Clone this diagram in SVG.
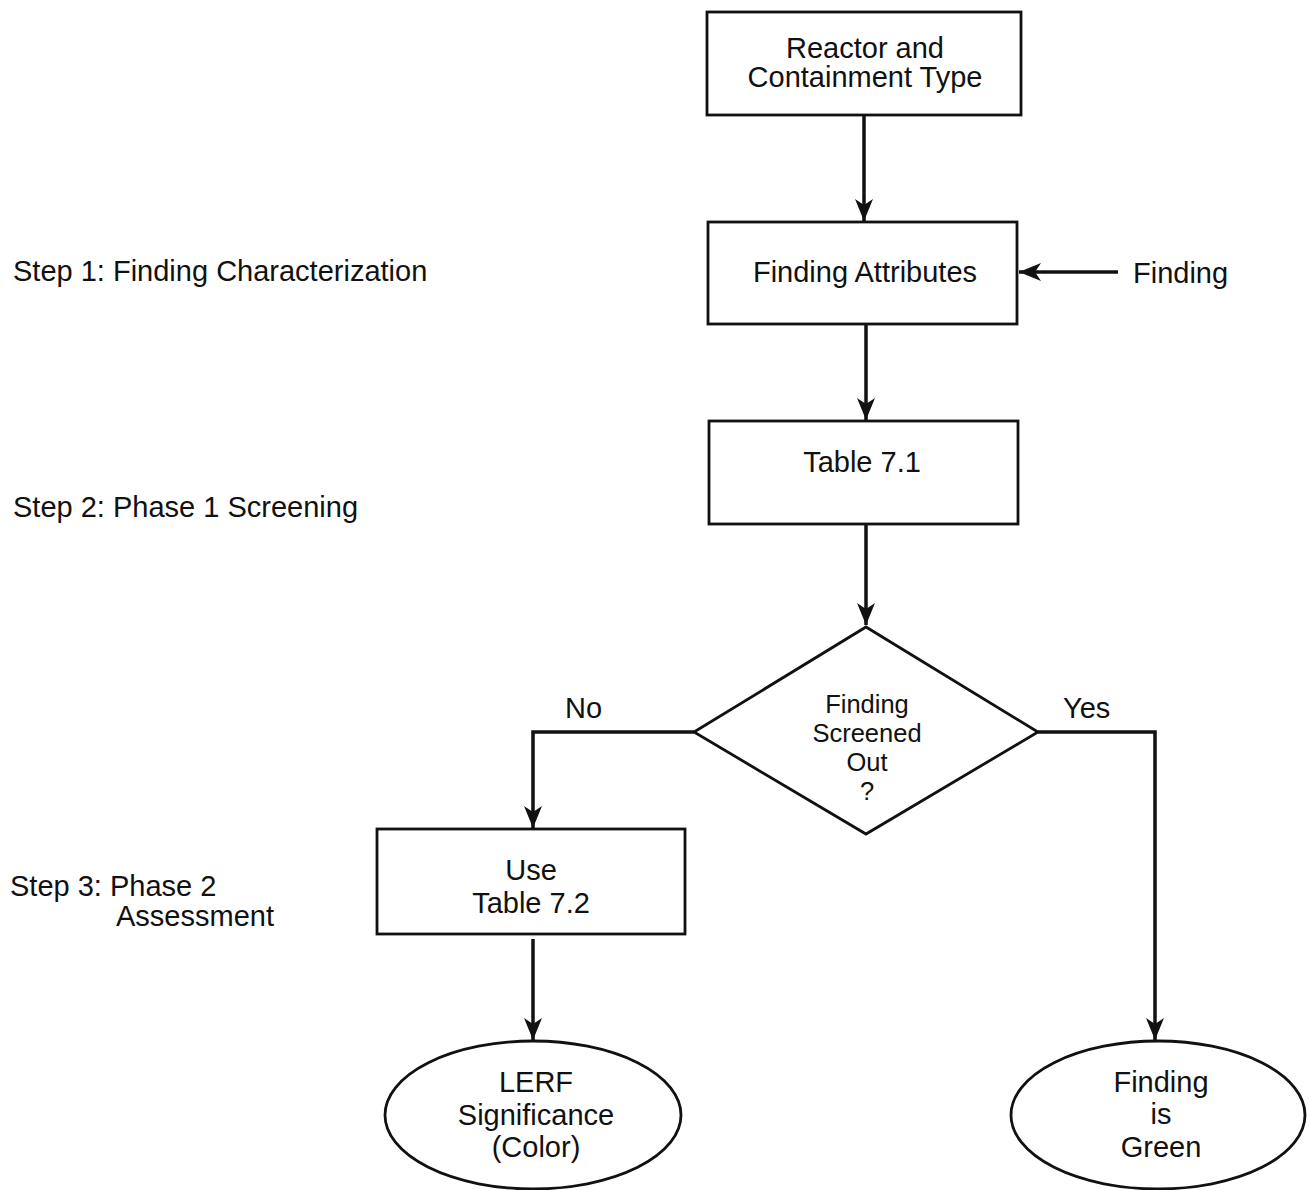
<svg xmlns="http://www.w3.org/2000/svg" width="1310" height="1190" viewBox="0 0 1310 1190">
<style>
.node{fill:#fff;stroke:#111;stroke-width:2.8}
.t{font-family:"Liberation Sans",Arial,sans-serif;font-size:29px;fill:#111;text-anchor:middle}
.d{font-size:25.5px}
.l{font-family:"Liberation Sans",Arial,sans-serif;font-size:29px;fill:#111}
.c{fill:none;stroke:#111;stroke-width:3.5}
</style>
<defs>
<marker id="ah" markerUnits="userSpaceOnUse" markerWidth="24" markerHeight="20" refX="22" refY="9" orient="auto">
<path d="M0,0 L22,9 L0,18 L6,9 Z" fill="#111"/>
</marker>
</defs>
<rect width="1310" height="1190" fill="#fff"/>
<g id="labels">
<text class="l" x="13" y="281">Step 1: Finding Characterization</text>
<text class="l" x="13" y="517">Step 2: Phase 1 Screening</text>
<text class="l" x="10" y="896">Step 3: Phase 2</text>
<text class="l" x="116" y="926">Assessment</text>
<text class="l" x="1133" y="283">Finding</text>
<text class="l" x="565" y="718">No</text>
<text class="l" x="1063" y="718">Yes</text>
</g>
<g id="connectors">
<line class="c" x1="864" y1="116" x2="864" y2="221" marker-end="url(#ah)"/>
<line class="c" x1="866" y1="325" x2="866" y2="420" marker-end="url(#ah)"/>
<line class="c" x1="866" y1="525" x2="866" y2="625" marker-end="url(#ah)"/>
<line class="c" x1="1118" y1="272" x2="1019" y2="272" marker-end="url(#ah)"/>
<polyline class="c" points="694,732 533,732 533,828" marker-end="url(#ah)"/>
<polyline class="c" points="1038,732 1155,732 1155,1040" marker-end="url(#ah)"/>
<line class="c" x1="533" y1="939" x2="533" y2="1040" marker-end="url(#ah)"/>
</g>
<g id="n1">
<rect class="node" x="707" y="12" width="314" height="103"/>
<text class="t" x="865" y="58">Reactor and</text>
<text class="t" x="865" y="87">Containment Type</text>
</g>
<g id="n2">
<rect class="node" x="708" y="222" width="309" height="102"/>
<text class="t" x="865" y="282">Finding Attributes</text>
</g>
<g id="n3">
<rect class="node" x="709" y="421" width="309" height="103"/>
<text class="t" x="862" y="472">Table 7.1</text>
</g>
<g id="n4">
<polygon class="node" points="866,627 1038,732 866,834 694,732"/>
<text class="t d" x="867" y="713">Finding</text>
<text class="t d" x="867" y="742">Screened</text>
<text class="t d" x="867" y="771">Out</text>
<text class="t d" x="867" y="800">?</text>
</g>
<g id="n5">
<rect class="node" x="377" y="829" width="308" height="105"/>
<text class="t" x="531" y="880">Use</text>
<text class="t" x="531" y="913">Table 7.2</text>
</g>
<g id="n6">
<ellipse class="node" cx="533" cy="1115" rx="148" ry="74"/>
<text class="t" x="536" y="1092">LERF</text>
<text class="t" x="536" y="1125">Significance</text>
<text class="t" x="536" y="1157">(Color)</text>
</g>
<g id="n7">
<ellipse class="node" cx="1158" cy="1115" rx="147" ry="74"/>
<text class="t" x="1161" y="1092">Finding</text>
<text class="t" x="1161" y="1124">is</text>
<text class="t" x="1161" y="1157">Green</text>
</g>
</svg>
